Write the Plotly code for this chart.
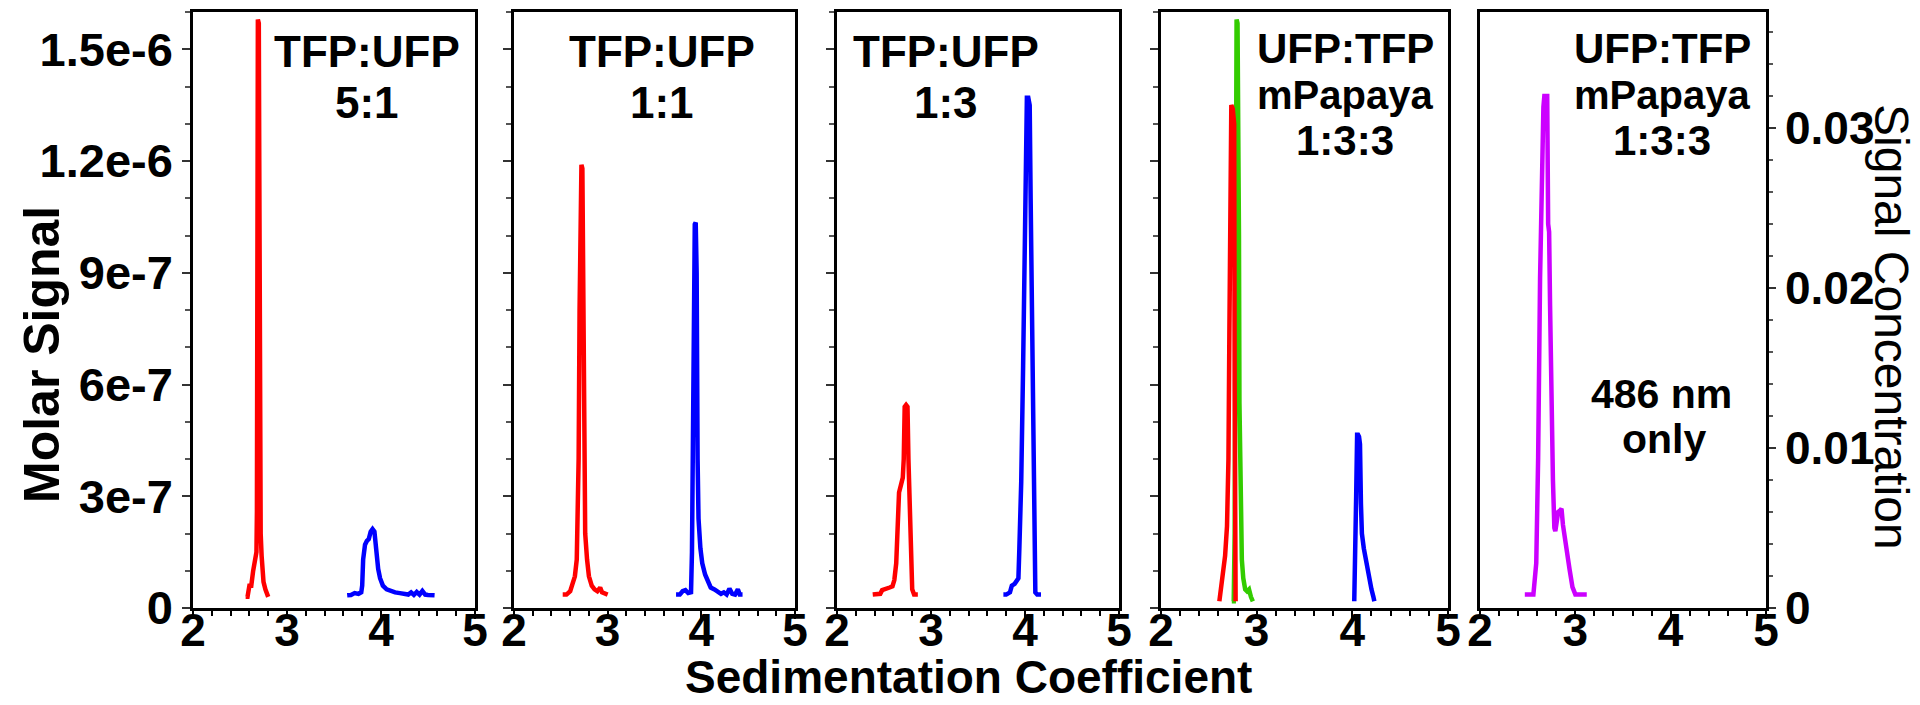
import plotly.graph_objects as go

# ---------------- data ----------------
# Panel 1: TFP:UFP 5:1
red1_x = [2.56, 2.58, 2.60, 2.62, 2.64, 2.66, 2.675, 2.68, 2.685, 2.69, 2.70, 2.705, 2.71, 2.72, 2.73, 2.75, 2.77, 2.79, 2.80]
red1_y = [3e-8, 3e-8, 6e-8, 6e-8, 1.0e-7, 1.4e-7, 1.5e-7, 2.6e-7, 1.05e-6, 1.58e-6, 1.57e-6, 1.2e-6, 6.0e-7, 2.0e-7, 1.4e-7, 7e-8, 5e-8, 3e-8, 3e-8]
blue1_x = [3.64, 3.68, 3.72, 3.76, 3.79, 3.80, 3.81, 3.83, 3.85, 3.87, 3.89, 3.91, 3.93, 3.94, 3.95, 3.97, 3.99, 4.02, 4.06,
           4.10, 4.15, 4.20, 4.25, 4.29, 4.32, 4.35, 4.38, 4.41, 4.44, 4.47, 4.50, 4.54, 4.57]
blue1_y = [3.4e-8, 3.5e-8, 4.0e-8, 3.8e-8, 4.2e-8, 6.0e-8, 1.3e-7, 1.7e-7, 1.8e-7, 1.85e-7, 2.05e-7, 2.12e-7, 2.05e-7, 1.7e-7,
           1.4e-7, 1.05e-7, 8.0e-8, 6.0e-8, 5.0e-8, 4.5e-8, 4.2e-8, 4.0e-8, 3.8e-8, 3.6e-8, 4.2e-8, 3.5e-8, 4.3e-8, 3.6e-8,
           4.6e-8, 3.6e-8, 3.5e-8, 3.6e-8, 3.4e-8]

# Panel 2: TFP:UFP 1:1
red2_x = [2.52, 2.56, 2.60, 2.63, 2.65, 2.67, 2.68, 2.69, 2.70, 2.71, 2.72, 2.73, 2.74, 2.745, 2.75, 2.76, 2.78, 2.80,
          2.83, 2.86, 2.89, 2.92, 2.94, 2.97, 3.00]
red2_y = [3.6e-8, 3.6e-8, 4.5e-8, 6.6e-8, 8.5e-8, 1.3e-7, 2.2e-7, 4.0e-7, 8.0e-7, 1.19e-6, 1.19e-6, 1.18e-6, 8.5e-7, 6.0e-7,
          3.6e-7, 2.0e-7, 1.3e-7, 8.5e-8, 6.0e-8, 5.0e-8, 4.5e-8, 5.5e-8, 4.2e-8, 3.8e-8, 3.6e-8]
blue2_x = [3.73, 3.77, 3.80, 3.83, 3.86, 3.89, 3.90, 3.91, 3.92, 3.93, 3.94, 3.95, 3.96, 3.97, 3.99, 4.01, 4.04, 4.07,
           4.10, 4.14, 4.18, 4.21, 4.24, 4.27, 4.30, 4.33, 4.36, 4.39, 4.41, 4.44]
blue2_y = [3.6e-8, 3.6e-8, 4.5e-8, 4.8e-8, 4.0e-8, 4.2e-8, 1.5e-7, 4.0e-7, 9.0e-7, 1.03e-6, 1.035e-6, 9.0e-7, 4.0e-7,
           2.4e-7, 1.6e-7, 1.2e-7, 9.0e-8, 7.0e-8, 5.5e-8, 5.0e-8, 4.5e-8, 3.8e-8, 4.2e-8, 3.6e-8, 5.2e-8, 3.8e-8,
           3.6e-8, 5.0e-8, 3.6e-8, 3.6e-8]

# Panel 3: TFP:UFP 1:3
red3_x = [2.38, 2.42, 2.46, 2.48, 2.52, 2.56, 2.59, 2.61, 2.63, 2.65, 2.66, 2.68, 2.70, 2.71, 2.72, 2.735, 2.75, 2.76,
          2.77, 2.79, 2.80, 2.82, 2.86]
red3_y = [3.6e-8, 3.6e-8, 3.8e-8, 4.8e-8, 5.0e-8, 5.5e-8, 5.8e-8, 7.5e-8, 1.2e-7, 2.6e-7, 3.1e-7, 3.3e-7, 3.5e-7, 4.0e-7,
          5.4e-7, 5.45e-7, 5.4e-7, 4.0e-7, 2.8e-7, 1.6e-7, 5.0e-8, 3.6e-8, 3.6e-8]
blue3_x = [3.77, 3.80, 3.84, 3.86, 3.89, 3.93, 3.94, 3.96, 3.98, 3.99, 4.00, 4.02, 4.035, 4.05, 4.06, 4.07, 4.08, 4.10,
           4.11, 4.13, 4.17]
blue3_y = [3.6e-8, 3.6e-8, 4.2e-8, 6.0e-8, 6.5e-8, 8.0e-8, 1.6e-7, 3.4e-7, 6.5e-7, 8.9e-7, 1.13e-6, 1.37e-6, 1.37e-6,
           1.35e-6, 1.1e-6, 8.9e-7, 4.9e-7, 2.8e-7, 4.2e-8, 3.6e-8, 3.6e-8]

# Panel 4: UFP:TFP mPapaya 1:3:3
green4_x = [2.74, 2.76, 2.77, 2.775, 2.78, 2.79, 2.80, 2.81, 2.815, 2.82, 2.83, 2.845, 2.86, 2.88, 2.90, 2.92, 2.94, 2.96]
green4_y = [1.8e-8, 1.8e-8, 2.0e-7, 9.0e-7, 1.58e-6, 1.58e-6, 1.57e-6, 1.3e-6, 1.0e-6, 5.5e-7, 2.5e-7, 1.3e-7, 8.0e-8,
            5.0e-8, 4.5e-8, 5.0e-8, 3.0e-8, 1.8e-8]
red4_x = [2.61, 2.63, 2.65, 2.67, 2.69, 2.705, 2.715, 2.725, 2.735, 2.75, 2.765, 2.77, 2.775, 2.78]
red4_y = [1.8e-8, 5.4e-8, 9.0e-8, 1.4e-7, 2.2e-7, 4.0e-7, 7.5e-7, 1.35e-6, 1.35e-6, 1.34e-6, 1.3e-6, 6.0e-7, 2.0e-7, 1.8e-8]
blue4_x = [4.02, 4.03, 4.04, 4.05, 4.06, 4.07, 4.08, 4.09, 4.10, 4.12, 4.14, 4.16, 4.18, 4.20, 4.22, 4.23]
blue4_y = [1.8e-8, 1.2e-7, 3.0e-7, 4.65e-7, 4.65e-7, 4.6e-7, 4.4e-7, 2.8e-7, 2.0e-7, 1.6e-7, 1.3e-7, 1.0e-7, 7.0e-8,
           5.0e-8, 3.0e-8, 1.8e-8]

# Panel 5: UFP:TFP mPapaya 1:3:3, 486 nm only (signal concentration)
purple5_x = [2.47, 2.52, 2.56, 2.59, 2.61, 2.63, 2.645, 2.655, 2.665, 2.675, 2.69, 2.705, 2.715, 2.725, 2.735, 2.75,
             2.765, 2.78, 2.79, 2.80, 2.82, 2.84, 2.855, 2.87, 2.89, 2.91, 2.94, 2.97, 3.00, 3.04, 3.08, 3.12]
purple5_y = [0.00085, 0.00085, 0.00085, 0.0028, 0.0094, 0.0206, 0.0262, 0.027, 0.0313, 0.032, 0.032, 0.032, 0.024,
             0.0235, 0.0189, 0.0122, 0.008, 0.005, 0.0048, 0.0052, 0.006, 0.0061, 0.0062, 0.0052, 0.0043, 0.0035,
             0.0024, 0.0013, 0.00085, 0.00085, 0.00085, 0.00085]

x_ticks = [2, 3, 4, 5]
x_ticktext = ["2", "3", "4", "5"]
y_ticks = [0, 3e-7, 6e-7, 9e-7, 1.2e-6, 1.5e-6]
y_ticktext = ["0", "3e-7", "6e-7", "9e-7", "1.2e-6", "1.5e-6"]
y2_ticks = [0, 0.01, 0.02, 0.03]
y2_ticktext = ["0", "0.01", "0.02", "0.03"]

panel_labels = [
    ["TFP:UFP", "5:1"],
    ["TFP:UFP", "1:1"],
    ["TFP:UFP", "1:3"],
    ["UFP:TFP", "mPapaya", "1:3:3"],
    ["UFP:TFP", "mPapaya", "1:3:3"],
]

# ---------------- figure ----------------
W, H = 1920, 705
RED, BLUE, GREEN, PURPLE = "#ff0000", "#0000ff", "#33cc00", "#cc00ff"
FONT = "Liberation Sans, Arial, sans-serif"

panels_px = [(185, 467), (506, 787), (829, 1111), (1153, 1440), (1472, 1758)]
plot_top, plot_bot = 4, 600
ydom = [(H - plot_bot) / H, (H - plot_top) / H]

fig = go.Figure()

series = [
    (1, red1_x, red1_y, RED), (1, blue1_x, blue1_y, BLUE),
    (2, red2_x, red2_y, RED), (2, blue2_x, blue2_y, BLUE),
    (3, red3_x, red3_y, RED), (3, blue3_x, blue3_y, BLUE),
    (4, green4_x, green4_y, GREEN), (4, red4_x, red4_y, RED), (4, blue4_x, blue4_y, BLUE),
    (5, purple5_x, purple5_y, PURPLE),
]
for p, xs, ys, c in series:
    sfx = "" if p == 1 else str(p)
    fig.add_trace(go.Scatter(x=xs, y=ys, mode="lines", line=dict(color=c, width=4.5),
                             xaxis="x" + sfx, yaxis="y" + sfx, showlegend=False, hoverinfo="skip"))

layout = dict(
    width=W, height=H, margin=dict(l=0, r=0, t=0, b=0),
    paper_bgcolor="white", plot_bgcolor="white", showlegend=False,
)
tickfont = dict(family=FONT, size=46, color="black", weight="bold")
for i, (l, r) in enumerate(panels_px, start=1):
    sfx = "" if i == 1 else str(i)
    layout["xaxis" + sfx] = dict(
        domain=[l / W, r / W], range=[2, 5], anchor="y" + sfx,
        tickmode="array", tickvals=x_ticks, ticktext=x_ticktext,
        ticks="outside", ticklen=8, tickwidth=2, tickcolor="black", ticklabelstandoff=-28,
        minor=dict(tick0=2, dtick=0.2, ticks="outside", ticklen=5, tickwidth=1.5, tickcolor="black"),
        showline=True, linecolor="black", linewidth=2.5, mirror=True,
        showgrid=False, zeroline=False, tickfont=tickfont, automargin=False,
    )
    if i < 5:
        layout["yaxis" + sfx] = dict(
            domain=ydom, range=[0, 1.6e-6], anchor="x" + sfx,
            tickmode="array", tickvals=y_ticks, ticktext=y_ticktext,
            showticklabels=(i == 1),
            ticks="outside", ticklen=8, tickwidth=2, tickcolor="#333",
            minor=dict(tick0=0, dtick=1e-7, ticks="outside", ticklen=5, tickwidth=1.5, tickcolor="#555"),
            showline=True, linecolor="black", linewidth=2.5, mirror=True,
            showgrid=False, zeroline=False, tickfont=dict(family=FONT, size=47, color="black", weight="bold"),
            automargin=False,
        )
    else:
        layout["yaxis" + sfx] = dict(
            domain=ydom, range=[0, 0.03725], anchor="x" + sfx, side="right",
            tickmode="array", tickvals=y2_ticks, ticktext=y2_ticktext,
            ticks="outside", ticklen=7, tickwidth=2, tickcolor="#333",
            minor=dict(tick0=0, dtick=0.002, ticks="outside", ticklen=4, tickwidth=1.5, tickcolor="#555"),
            showline=True, linecolor="black", linewidth=2.5, mirror=True,
            showgrid=False, zeroline=False, tickfont=dict(family=FONT, size=46, color="black", weight="bold"),
            automargin=False,
        )
fig.update_layout(**layout)

annotations = []
def add_text(txt, x_px, y_px, size, weight="bold", angle=0):
    annotations.append(dict(text=txt, x=x_px / W, y=1 - y_px / H, xref="paper", yref="paper",
                            xanchor="center", yanchor="middle", showarrow=False, textangle=angle,
                            font=dict(family=FONT, size=size, color="black", weight=weight)))

label_x = [359, 654, 938, 1337, 1654]
for i, lines in enumerate(panel_labels):
    if len(lines) == 2:
        ys, sizes = [44, 95], [44, 44]
    else:
        ys, sizes = [41, 87, 133], [42, 40, 42]
    for line, yy, sz in zip(lines, ys, sizes):
        add_text(line, label_x[i], yy, sz)
add_text("486 nm", 1653, 386, 41)
add_text("only", 1656, 431, 41)
add_text("Molar Signal", 34, 347, 50, angle=-90)
add_text("Sedimentation Coefficient", 960, 669, 46)
add_text("Signal Concentration", 1884, 319, 48, weight="normal", angle=90)
fig.update_layout(annotations=annotations)

fig.write_html("out.html")
